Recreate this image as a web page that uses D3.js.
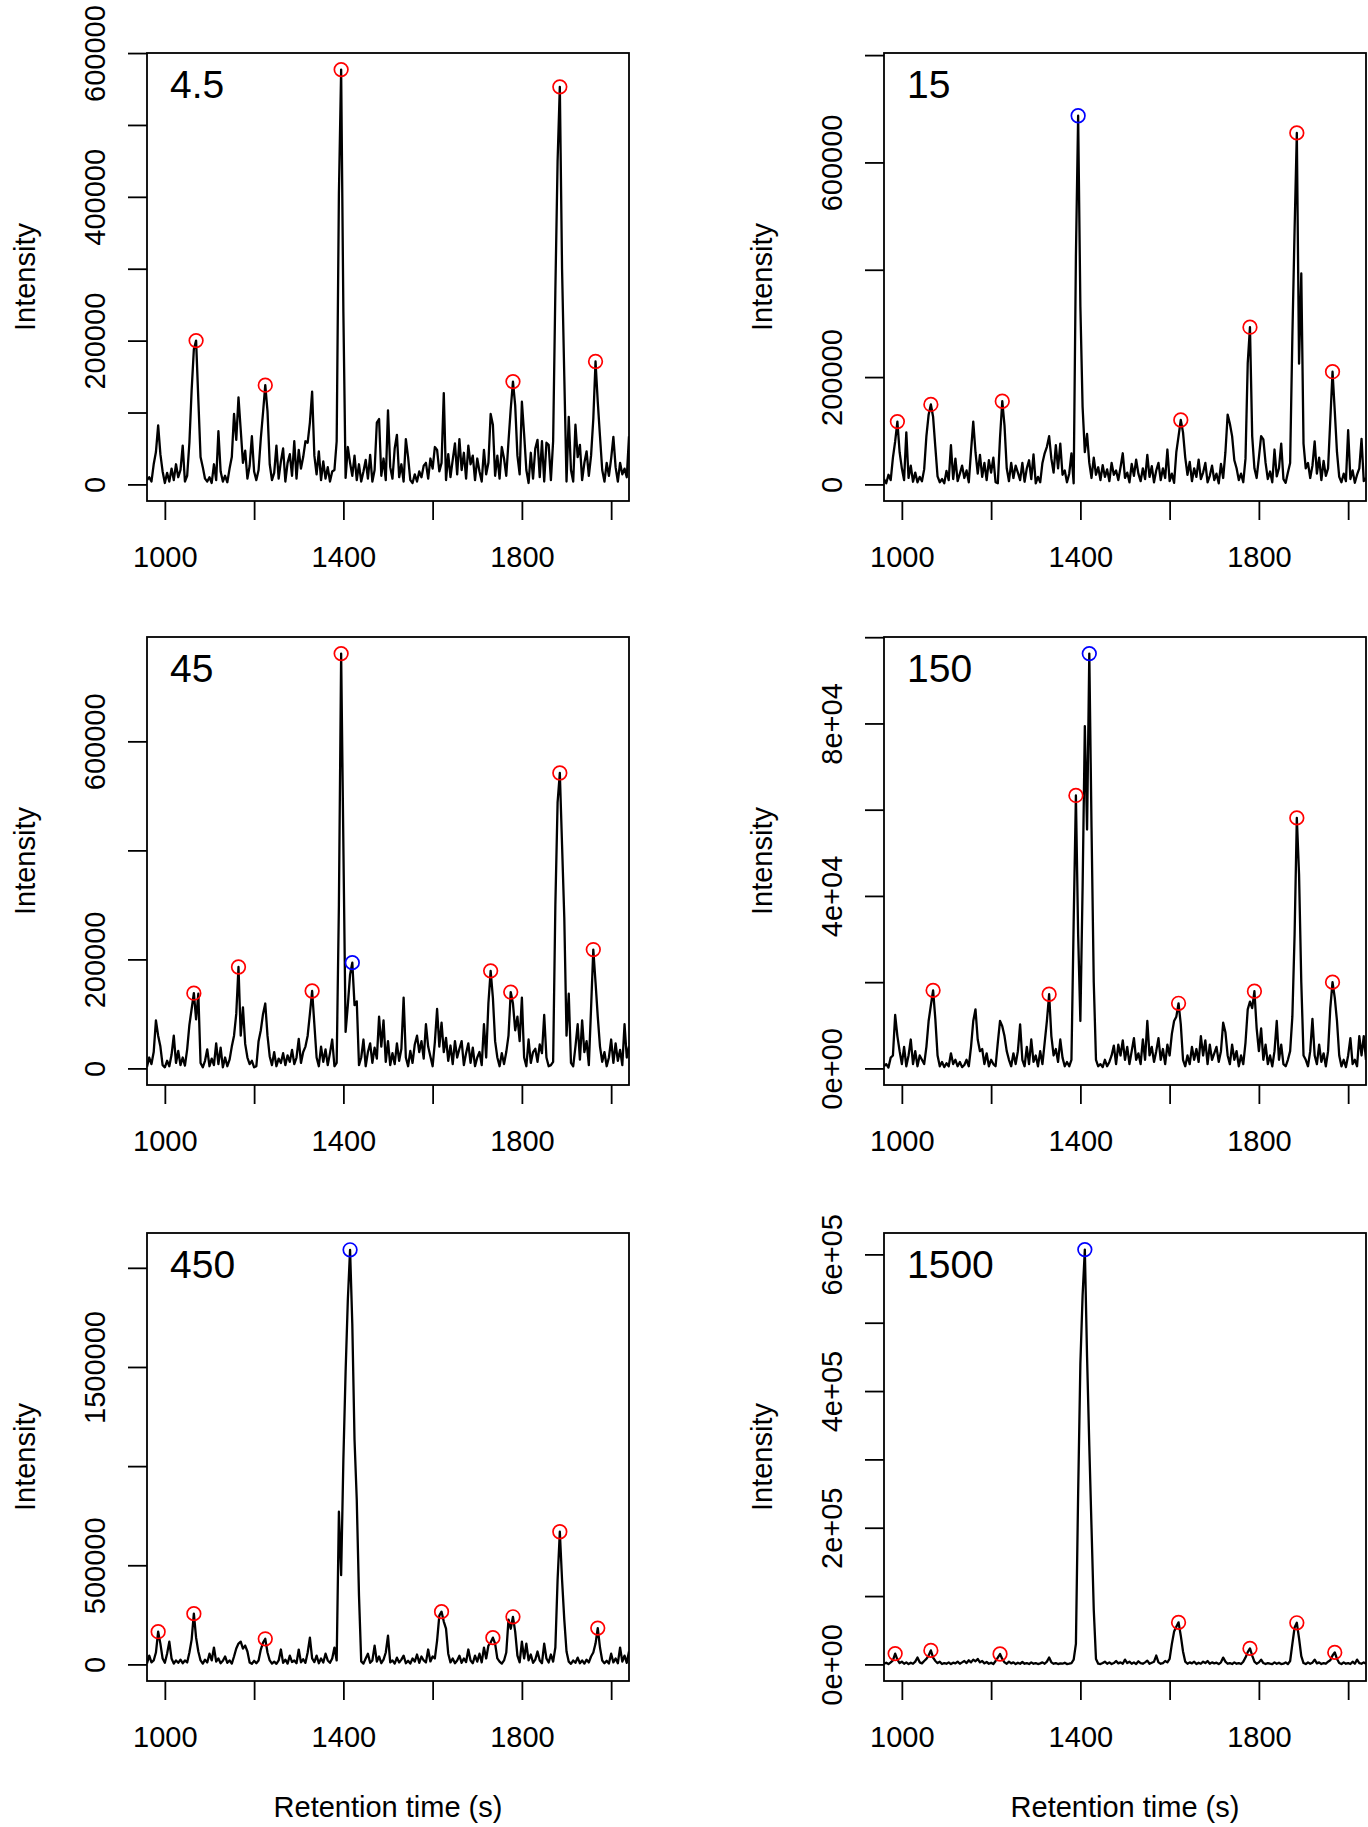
<!DOCTYPE html>
<html>
<head>
<meta charset="utf-8">
<script src="https://cdn.jsdelivr.net/npm/d3@7"></script>
<style>
  body { margin: 0; background: #fff; }
  svg { display: block; }
</style>
</head>
<body>
<div id="chart"></div>
<script>
// sampling grid of the chromatograms (s)
const retentionTimes = d3.range(960, 2041, 5)

// intensities, in thousands, one value per retention time
const intensity4_5 = [
  6, 10, 4, 28, 45, 82, 42, 18, 2, 16, 4, 22, 6, 28, 10, 20, 54, 4, 12, 58,
  131, 188, 200, 118, 38, 24, 8, 4, 10, 2, 28, 6, 74, 18, 4, 12, 3, 22, 38, 98,
  62, 121, 76, 30, 47, 8, 26, 67, 18, 6, 20, 64, 100, 138, 102, 28, 6, 16, 54, 8,
  32, 50, 4, 30, 42, 12, 60, 8, 48, 22, 38, 60, 58, 86, 129, 40, 14, 46, 6, 32,
  8, 24, 4, 18, 20, 60, 405, 577, 240, 9, 52, 30, 12, 40, 6, 28, 4, 18, 34, 8,
  41, 4, 20, 86, 91, 12, 36, 6, 103, 24, 8, 50, 69, 10, 28, 4, 63, 38, 6, 2,
  14, 4, 18, 10, 26, 30, 8, 36, 22, 52, 48, 18, 30, 127, 6, 42, 10, 34, 57, 14,
  63, 20, 44, 8, 54, 28, 40, 6, 36, 18, 4, 48, 14, 30, 98, 83, 12, 40, 8, 52,
  36, 12, 60, 105, 143, 110, 40, 14, 115, 70, 20, 2, 44, 8, 50, 62, 10, 60, 4, 58,
  55, 6, 60, 270, 450, 553, 300, 150, 4, 94, 20, 4, 83, 38, 55, 6, 30, 46, 12, 40,
  91, 171, 115, 67, 20, 4, 30, 12, 36, 66, 24, 4, 30, 14, 22, 10, 67
]
const intensity15 = [
  10, 2, 18, 8, 50, 80, 117, 60, 30, 8, 97, 12, 35, 5, 22, 4, 14, 6, 28, 90,
  130, 149, 126, 70, 15, 4, 10, 2, 25, 8, 73, 10, 48, 6, 20, 35, 12, 26, 4, 62,
  117, 60, 20, 55, 14, 40, 8, 45, 22, 50, 4, 2, 88, 155, 110, 30, 6, 40, 12, 35,
  22, 8, 40, 5, 30, 45, 10, 56, 2, 14, 4, 40, 58, 70, 90, 48, 22, 73, 30, 76,
  18, 26, 4, 20, 58, 2, 425, 687, 332, 144, 60, 94, 40, 12, 50, 18, 32, 8, 36, 14,
  28, 6, 40, 18, 26, 8, 32, 58, 12, 22, 4, 38, 16, 46, 20, 6, 30, 10, 55, 14,
  34, 4, 26, 40, 8, 30, 12, 65, 6, 20, 3, 60, 90, 120, 97, 50, 18, 42, 6, 30,
  14, 46, 10, 22, 40, 4, 16, 35, 8, 20, 2, 38, 12, 60, 130, 113, 90, 45, 30, 8,
  20, 4, 48, 226, 293, 90, 30, 12, 50, 90, 84, 40, 10, 24, 4, 65, 15, 30, 76, 10,
  3, 22, 40, 275, 475, 655, 225, 393, 76, 30, 40, 12, 35, 80, 20, 50, 8, 44, 16, 30,
  120, 210, 137, 60, 14, 4, 20, 6, 101, 10, 26, 3, 18, 30, 85, 6, 12
]
const intensity45 = [
  3, 20, 8, 30, 88, 60, 40, 6, 2, 14, 4, 25, 60, 10, 32, 6, 20, 5, 35, 80,
  109, 138, 90, 137, 10, 2, 14, 35, 4, 18, 6, 46, 8, 38, 2, 20, 4, 16, 40, 60,
  100, 186, 60, 112, 45, 20, 8, 14, 2, 4, 50, 70, 100, 119, 60, 22, 6, 30, 4, 18,
  10, 28, 6, 24, 12, 34, 8, 20, 54, 10, 30, 40, 60, 100, 142, 81, 20, 4, 40, 12,
  35, 6, 28, 53, 4, 10, 300, 761, 410, 67, 116, 172, 194, 116, 123, 6, 20, 53, 4, 30,
  46, 10, 38, 18, 95, 40, 88, 12, 50, 6, 28, 8, 46, 14, 36, 130, 20, 4, 32, 10,
  44, 60, 30, 50, 18, 81, 40, 22, 4, 48, 109, 40, 84, 30, 56, 14, 42, 8, 50, 20,
  36, 50, 6, 28, 46, 10, 38, 4, 20, 30, 6, 81, 20, 120, 179, 130, 50, 20, 4, 28,
  8, 30, 60, 140, 119, 70, 95, 50, 130, 20, 4, 53, 10, 30, 36, 12, 44, 28, 98, 20,
  4, 6, 12, 300, 488, 542, 410, 277, 60, 137, 10, 4, 40, 81, 16, 88, 30, 50, 6, 110,
  218, 158, 95, 40, 12, 30, 4, 20, 53, 10, 46, 14, 34, 6, 81, 20, 40
]
const intensity150 = [
  0.5, 1, 0.2, 2.5, 3, 12.4, 7.5, 4, 1, 5, 0.5, 3, 6.7, 1, 4, 0.5, 3, 2, 1, 5,
  11, 14.6, 18.1, 11.5, 3, 0.5, 1.5, 0.3, 1.2, 0.5, 3.5, 1, 2, 0.5, 1.5, 0.3, 0.8, 2, 0.5, 5,
  11, 13.7, 6.7, 4, 4.5, 1, 3.5, 0.5, 2, 1, 0.5, 6, 11, 9.8, 7.5, 4, 2, 0.5, 3.5, 1,
  4, 10.2, 2, 0.5, 5, 1, 6.7, 1.5, 3, 0.5, 4, 1, 6, 11, 17.2, 7.5, 3, 4.5, 1.5, 6.7,
  2.5, 0.5, 1.5, 0.5, 2, 34.1, 63.3, 31, 11, 42, 79.4, 55.4, 96.2, 55.9, 20, 2, 0.5, 1, 0.3, 2,
  0.5, 1.5, 3, 5.3, 1, 5.5, 3, 6.5, 2, 5, 1, 4, 7, 2, 3.5, 1, 6.7, 2, 11, 3,
  5, 1.5, 4, 7, 2, 4.5, 1, 5.5, 3, 8, 11, 12, 15.1, 10.2, 2, 0.5, 3, 1, 5, 2,
  4.5, 1.5, 7.5, 3, 6.5, 1, 5.5, 2, 3.5, 5, 1.5, 4, 10.6, 8.4, 3, 1, 5.5, 2, 4, 0.5,
  3, 1, 6, 13.7, 15.5, 14, 17.9, 9.3, 4, 9.3, 2, 5.5, 1, 3, 0.5, 4, 11, 2, 5.5, 1,
  0.5, 2, 4, 12, 31, 58.1, 45, 20, 3, 2, 0.5, 4, 11.5, 3, 1, 5.5, 1.5, 3.5, 0.5, 4,
  14, 20, 16.4, 11, 3, 0.5, 2, 0.3, 3, 7, 1, 2, 0.5, 7.5, 3, 7.5, 2
]
const intensity450 = [
  5, 44, 10, 20, 60, 165, 105, 30, 8, 54, 115, 30, 4, 20, 8, 24, 6, 20, 10, 60,
  125, 256, 135, 65, 20, 4, 24, 10, 54, 20, 85, 14, 30, 6, 18, 40, 8, 20, 4, 40,
  80, 105, 115, 80, 95, 65, 10, 3, 18, 6, 20, 75, 110, 129, 60, 20, 4, 14, 3, 20,
  75, 8, 24, 4, 44, 12, 20, 6, 75, 10, 26, 8, 60, 135, 30, 12, 44, 6, 30, 10,
  54, 20, 8, 30, 85, 20, 770, 450, 1032, 1476, 1839, 2091, 1718, 1133, 830, 347, 15, 4, 30, 54,
  8, 20, 95, 14, 40, 6, 24, 60, 145, 10, 20, 4, 34, 10, 24, 44, 6, 18, 4, 30,
  14, 50, 8, 40, 20, 10, 75, 15, 40, 30, 120, 246, 266, 216, 180, 54, 10, 30, 6, 20,
  44, 8, 30, 12, 75, 20, 6, 44, 14, 54, 10, 85, 30, 95, 110, 135, 105, 30, 14, 4,
  20, 60, 226, 180, 240, 165, 44, 10, 115, 30, 105, 20, 50, 8, 24, 65, 20, 6, 105, 30,
  10, 50, 14, 85, 427, 669, 427, 226, 65, 14, 3, 20, 8, 34, 6, 20, 4, 24, 10, 40,
  60, 105, 183, 85, 20, 6, 18, 4, 54, 10, 30, 6, 85, 14, 44, 8, 65
]
const intensity1500 = [
  1, 2.5, 0.5, 3, 6, 15.8, 7, 2, 4, 1, 3, 0.5, 2.5, 1, 4, 10, 3, 1.5, 5, 8,
  13, 20.5, 10, 5, 2, 4, 0.5, 2, 1, 3, 0.5, 2.5, 1.5, 4, 1, 3, 5, 2, 6, 3,
  7, 4.5, 8, 3, 5, 1.5, 3.5, 1, 2.5, 0.5, 5, 10, 15.2, 8, 3, 1, 4, 1.5, 3, 0.5,
  2.5, 1, 3.5, 1, 2, 0.5, 3, 1, 2, 0.5, 1.5, 3, 1, 4, 10, 3, 1, 2, 0.5, 1.5,
  1, 2.5, 0.5, 1, 2, 7, 30, 250, 440, 540, 607, 450, 320, 200, 80, 8, 1, 0.5, 2, 4,
  1, 3, 0.5, 2, 5, 1.5, 3, 1, 7, 2, 4, 1, 3, 0.5, 4.5, 2, 1, 3, 5.5, 1,
  2.5, 4, 13, 3, 1, 2, 5, 3, 8, 30, 48, 55, 61.5, 42, 19, 4, 1, 3, 1.5, 4,
  0.5, 2.5, 1, 4, 2, 5, 1, 3, 1.5, 2.5, 0.5, 3, 10, 4, 1, 2, 0.5, 3, 1, 2,
  0.5, 4, 10, 18, 23.4, 13, 4, 1, 3, 7, 2, 0.5, 2, 1, 0.5, 3, 1, 2.5, 0.5, 1,
  3, 0.5, 5, 30, 54, 60.9, 38, 12, 2, 0.5, 3, 1, 2.5, 7, 1.5, 3, 0.5, 2, 1, 4,
  6, 13, 17.6, 8, 2, 0.5, 3, 1, 2, 0.5, 4, 1, 7, 2, 1, 3, 1
]

// picked peaks (retention time of the apex) and the highlighted one
const peaks4_5 = [1070, 1225, 1395, 1780, 1885, 1965]
const peaks15 = [990, 1065, 1225, 1395, 1625, 1780, 1885, 1965]
const peaks45 = [1065, 1165, 1330, 1395, 1420, 1730, 1775, 1885, 1960]
const peaks150 = [1070, 1330, 1390, 1420, 1620, 1790, 1885, 1965]
const peaks450 = [985, 1065, 1225, 1415, 1620, 1735, 1780, 1885, 1970]
const peaks1500 = [985, 1065, 1220, 1410, 1620, 1780, 1885, 1970]
const highlighted = [null, 1395, 1420, 1420, 1415, 1410]

const panelTitles = ['4.5', '15', '45', '150', '450', '1500']
// upper end of the plotted data range (thousands)
const yDataMax = [577, 773, 761, 96.2, 2092, 607]

// tick values (thousands) and their labels
const yTicks4_5 = [0, 100, 200, 300, 400, 500, 600]
const yLabels4_5 = ['0', '', '200000', '', '400000', '', '600000']
const yTicks15 = [0, 200, 400, 600, 800]
const yLabels15 = ['0', '200000', '', '600000', '']
const yTicks45 = [0, 200, 400, 600]
const yLabels45 = ['0', '200000', '', '600000']
const yTicks150 = [0, 20, 40, 60, 80, 100]
const yLabels150 = ['0e+00', '', '4e+04', '', '8e+04', '']
const yTicks450 = [0, 500, 1000, 1500, 2000]
const yLabels450 = ['0', '500000', '', '1500000', '']
const yTicks1500 = [0, 100, 200, 300, 400, 500, 600]
const yLabels1500 = ['0e+00', '', '2e+05', '', '4e+05', '', '6e+05']

const xTicks = [1000, 1200, 1400, 1600, 1800, 2000]
const xLabels = ['1000', '', '1400', '', '1800', '']

const panels = [
  { title: panelTitles[0], values: intensity4_5, peaks: peaks4_5, yTicks: yTicks4_5, yLabels: yLabels4_5 },
  { title: panelTitles[1], values: intensity15, peaks: peaks15, yTicks: yTicks15, yLabels: yLabels15 },
  { title: panelTitles[2], values: intensity45, peaks: peaks45, yTicks: yTicks45, yLabels: yLabels45 },
  { title: panelTitles[3], values: intensity150, peaks: peaks150, yTicks: yTicks150, yLabels: yLabels150 },
  { title: panelTitles[4], values: intensity450, peaks: peaks450, yTicks: yTicks450, yLabels: yLabels450 },
  { title: panelTitles[5], values: intensity1500, peaks: peaks1500, yTicks: yTicks1500, yLabels: yLabels1500 }
].map((p, i) => ({ ...p, yMax: yDataMax[i], highlight: highlighted[i] }))

const width = 1368
const height = 1827
const plotW = 482
const plotH = 448
const colLeft = [147, 884]
const rowTop = [53, 637, 1233]
const font = "'Liberation Sans', Arial, Helvetica, sans-serif"

const svg = d3.select('#chart').append('svg').attr('width', width).attr('height', height)
svg.append('rect').attr('width', width).attr('height', height).attr('fill', '#fff')

const drawPanel = (p, i) => {
  const left = colLeft[i % 2]
  const top = rowTop[Math.floor(i / 2)]
  const bottom = top + plotH
  const lastRow = i >= 4

  const xScale = d3.scaleLinear().domain([960, 2040]).range([left, left + plotW])
  // R style 4% padding around [0, max]
  const yScale = d3
    .scaleLinear()
    .domain([-0.04 * p.yMax, 1.04 * p.yMax])
    .range([bottom, top])

  const g = svg.append('g').attr('class', `panel-${i}`)

  g.append('defs')
    .append('clipPath')
    .attr('id', `clip-${i}`)
    .append('rect')
    .attr('x', left)
    .attr('y', top)
    .attr('width', plotW)
    .attr('height', plotH)

  const pts = retentionTimes.map((t, k) => [t, p.values[k]])
  const line = d3
    .line()
    .x((d) => xScale(d[0]))
    .y((d) => yScale(d[1]))

  g.append('path')
    .datum(pts)
    .attr('clip-path', `url(#clip-${i})`)
    .attr('fill', 'none')
    .attr('stroke', '#000')
    .attr('stroke-width', 2.3)
    .attr('stroke-linejoin', 'round')
    .attr('d', line)

  // peak markers sit on the trace apex
  g.append('g')
    .selectAll('circle')
    .data(p.peaks)
    .join('circle')
    .attr('cx', (t) => xScale(t))
    .attr('cy', (t) => yScale(p.values[retentionTimes.indexOf(t)]))
    .attr('r', 6.8)
    .attr('fill', 'none')
    .attr('stroke', (t) => (t === p.highlight ? '#0000FF' : '#FF0000'))
    .attr('stroke-width', 1.7)

  // box
  g.append('rect')
    .attr('x', left)
    .attr('y', top)
    .attr('width', plotW)
    .attr('height', plotH)
    .attr('fill', 'none')
    .attr('stroke', '#000')
    .attr('stroke-width', 1.8)

  // y axis
  const yAxis = d3
    .axisLeft(yScale)
    .tickValues(p.yTicks)
    .tickSize(19)
    .tickFormat((d, k) => p.yLabels[k])
  g.append('g')
    .attr('class', 'y-axis')
    .attr('transform', `translate(${left},0)`)
    .call(yAxis)
    .call((a) => {
      a.select('.domain').remove()
      a.selectAll('.tick line').attr('stroke', '#000').attr('stroke-width', 1.8)
      a.selectAll('.tick text')
        .attr('x', null)
        .attr('dy', null)
        .attr('transform', 'translate(-42,0) rotate(-90)')
        .attr('text-anchor', 'middle')
        .attr('fill', '#000')
        .attr('font-size', '29px')
        .attr('font-family', font)
    })

  // x axis
  const xAxis = d3
    .axisBottom(xScale)
    .tickValues(xTicks)
    .tickSize(19)
    .tickFormat((d, k) => xLabels[k])
  g.append('g')
    .attr('class', 'x-axis')
    .attr('transform', `translate(0,${bottom})`)
    .call(xAxis)
    .call((a) => {
      a.select('.domain').remove()
      a.selectAll('.tick line').attr('stroke', '#000').attr('stroke-width', 1.8)
      a.selectAll('.tick text')
        .attr('y', 66)
        .attr('dy', null)
        .attr('fill', '#000')
        .attr('font-size', '29px')
        .attr('font-family', font)
    })

  // axis titles
  g.append('text')
    .attr('transform', `translate(${left - 112},${top + plotH / 2}) rotate(-90)`)
    .attr('text-anchor', 'middle')
    .attr('font-size', '29px')
    .attr('font-family', font)
    .text('Intensity')

  if (lastRow) {
    g.append('text')
      .attr('x', left + plotW / 2)
      .attr('y', bottom + 136)
      .attr('text-anchor', 'middle')
      .attr('font-size', '29px')
      .attr('font-family', font)
      .text('Retention time (s)')
  }

  // panel label
  g.append('text')
    .attr('x', left + 23)
    .attr('y', top + 45)
    .attr('font-size', '39px')
    .attr('font-family', font)
    .text(p.title)
}

panels.forEach(drawPanel)
</script>
</body>
</html>
